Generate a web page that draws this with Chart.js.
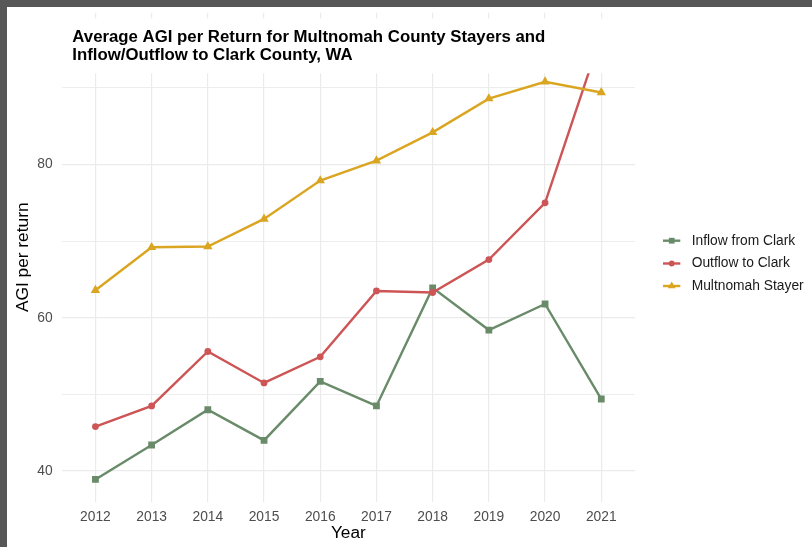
<!DOCTYPE html>
<html>
<head>
<meta charset="utf-8">
<script src="https://cdn.jsdelivr.net/npm/chart.js@4"></script>
<style>
  html, body { margin: 0; padding: 0; background: #575757; }
  body { width: 812px; height: 547px; overflow: hidden; position: relative; }
  #chart { position: absolute; left: 7px; top: 7px; background: #fff; }
</style>
</head>
<body>
<canvas id="chart" width="805" height="540"></canvas>
<script>
// --- DATA ---
const years = [2012, 2013, 2014, 2015, 2016, 2017, 2018, 2019, 2020, 2021];
const inflowFromClark = [38.9, 43.4, 48.0, 44.0, 51.7, 48.5, 63.9, 58.4, 61.8, 49.4];
const outflowToClark = [45.8, 48.5, 55.6, 51.5, 54.9, 63.5, 63.3, 67.6, 75.0, 96.9];
const multnomahStayer = [63.6, 69.2, 69.3, 72.9, 77.9, 80.5, 84.2, 88.6, 90.8, 89.4];
const seriesNames = ['Inflow from Clark', 'Outflow to Clark', 'Multnomah Stayer'];
const yTickValues = [40, 50, 60, 70, 80, 90];
const yLabelled = [40, 60, 80];
const titleLines = [
    'Average AGI per Return for Multnomah County Stayers and',
    'Inflow/Outflow to Clark County, WA'
];

const GREEN = '#698B69';
const RED = '#CD5555';
const GOLD = '#DAA520';
const GRID = '#EBEBEB';
const FONT = "'Liberation Sans', Arial, sans-serif";

const toPoints = vals => vals.map((v, i) => ({ x: years[i], y: v }));

function series(label, vals, color, style, radius, order) {
    return {
        label: label,
        data: toPoints(vals),
        borderColor: color,
        backgroundColor: color,
        borderWidth: 2.4,
        pointStyle: style,
        pointRadius: radius,
        pointBorderWidth: 0,
        pointHoverRadius: radius,
        tension: 0,
        clip: 0,
        order: order
    };
}

const datasets = [
    series(seriesNames[0], inflowFromClark, GREEN, 'rect', 4.8, 3),
    series(seriesNames[1], outflowToClark, RED, 'circle', 3.4, 2),
    series(seriesNames[2], multnomahStayer, GOLD, 'triangle', 5.4, 1)
];

// title sits on a white band over the top of the panel (as in the original)
const titleBand = {
    id: 'titleBand',
    afterDatasetsDraw(chart) {
        const ctx = chart.ctx;
        ctx.save();
        ctx.fillStyle = '#ffffff';
        ctx.fillRect(0, 11.5, chart.width, 54.8);
        ctx.restore();
    },
    afterDraw(chart) {
        const ctx = chart.ctx;
        ctx.save();
        ctx.fillStyle = '#000000';
        ctx.font = 'bold 16.8px ' + FONT;
        ctx.textBaseline = 'alphabetic';
        ctx.fillText(titleLines[0], 65.3, 34.7);
        ctx.fillText(titleLines[1], 65.3, 53.2);
        ctx.restore();
    }
};

// ggplot-style legend: line segment with the marker in the middle
const sideLegend = {
    id: 'sideLegend',
    afterDraw(chart) {
        const ctx = chart.ctx;
        const rows = [233.7, 256.5, 279];
        ctx.save();
        datasets.forEach((ds, i) => {
            const y = rows[i];
            ctx.strokeStyle = ds.borderColor;
            ctx.lineWidth = 2.4;
            ctx.beginPath();
            ctx.moveTo(656, y);
            ctx.lineTo(673.3, y);
            ctx.stroke();
            ctx.fillStyle = ds.backgroundColor;
            Chart.helpers.drawPoint(ctx, { pointStyle: ds.pointStyle, radius: ds.pointRadius * 0.85, borderWidth: 0, rotation: 0 }, 664.7, y);
            ctx.fillStyle = '#1a1a1a';
            ctx.font = '13.8px ' + FONT;
            ctx.textBaseline = 'middle';
            ctx.fillText(ds.label, 684.7, y);
        });
        ctx.restore();
    }
};

new Chart(document.getElementById('chart'), {
    type: 'line',
    data: { datasets: datasets },
    plugins: [titleBand, sideLegend],
    options: {
        responsive: false,
        animation: false,
        devicePixelRatio: 1,
        layout: { padding: { top: 5.8, right: 177, bottom: 0, left: 0 } },
        plugins: { legend: { display: false }, tooltip: { enabled: false } },
        scales: {
            x: {
                type: 'linear',
                min: 2011.4,
                max: 2021.6,
                afterBuildTicks: axis => { axis.ticks = years.map(v => ({ value: v })); },
                afterFit: s => { s.height = 45.3; s.paddingLeft = 0; s.paddingRight = 0; },
                grid: { color: GRID, lineWidth: 1.2, drawTicks: false },
                border: { display: false },
                ticks: {
                    padding: 7,
                    color: '#4D4D4D',
                    font: { family: FONT, size: 13.8 },
                    callback: v => String(v),
                    maxRotation: 0,
                    autoSkip: false
                },
                title: {
                    display: true,
                    text: 'Year',
                    color: '#000',
                    font: { family: FONT, size: 17.3 },
                    padding: { top: 0, bottom: 3 }
                }
            },
            y: {
                min: 36.0,
                max: 99.8,
                afterBuildTicks: axis => { axis.ticks = yTickValues.map(v => ({ value: v })); },
                afterFit: s => { s.width = 54.7; s.paddingTop = 0; s.paddingBottom = 0; },
                grid: {
                    color: GRID,
                    lineWidth: c => yLabelled.includes(c.tick.value) ? 1.2 : 0.9,
                    drawTicks: false
                },
                border: { display: false },
                ticks: {
                    padding: 9,
                    color: '#4D4D4D',
                    font: { family: FONT, size: 13.8 },
                    callback: v => yLabelled.includes(v) ? String(v) : ''
                },
                title: {
                    display: true,
                    text: 'AGI per return',
                    color: '#000',
                    font: { family: FONT, size: 17.3 },
                    padding: { top: 6, bottom: 0 }
                }
            }
        }
    }
});
</script>
</body>
</html>
